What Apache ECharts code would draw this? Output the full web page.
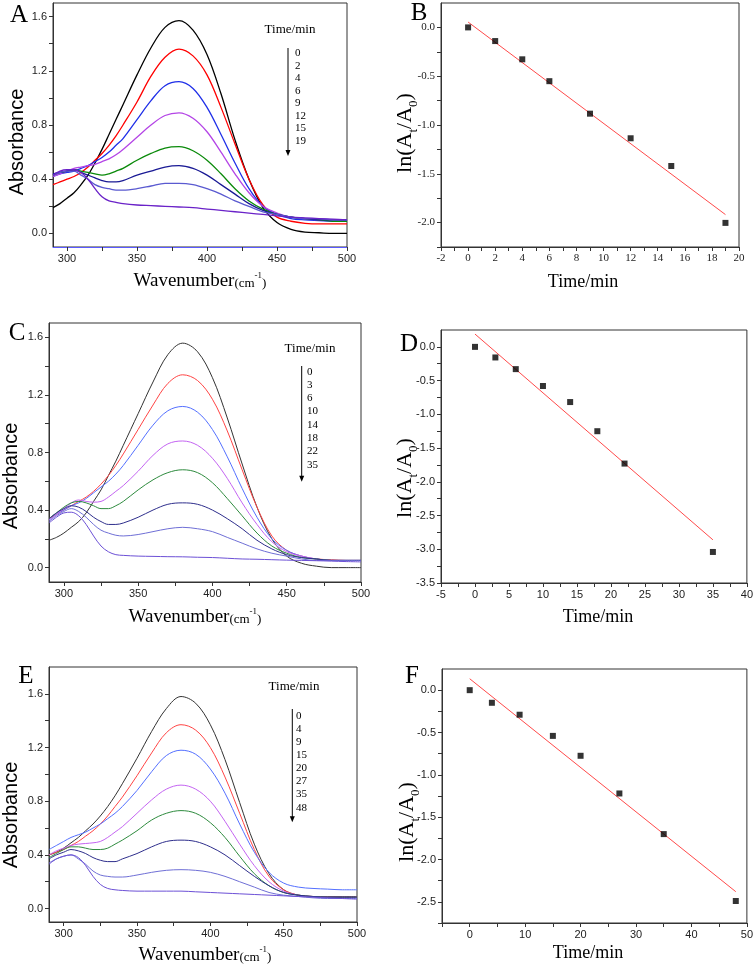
<!DOCTYPE html>
<html><head><meta charset="utf-8">
<script src="https://cdn.jsdelivr.net/npm/echarts@6/dist/echarts.min.js"></script>
<style>html,body{margin:0;padding:0;background:#fff}#c{width:756px;height:965px}</style>
</head><body><div id="c"></div>
<script>
// ---------- shared wavenumber grid ----------
const wn = [290,295,300,305,310,315,320,325,330,335,340,350,360,370,380,390,400,410,420,430,440,450,460,470,480,490,500];

// ---------- Panel A spectra (t = 0,2,4,6,9,12,15,19 min) ----------
const A_t0  = [.19,.22,.26,.30,.36,.43,.52,.62,.73,.84,.95,1.17,1.37,1.52,1.57,1.50,1.32,1.03,.69,.40,.19,.08,.03,.01,.005,0,0];
const A_t2  = [.36,.38,.40,.42,.45,.49,.54,.59,.65,.72,.80,.97,1.16,1.30,1.36,1.31,1.17,.93,.66,.40,.21,.12,.09,.075,.07,.07,.07];
const A_t4  = [.42,.44,.45,.46,.48,.50,.53,.56,.60,.65,.70,.84,.98,1.09,1.12,1.07,.93,.73,.52,.33,.20,.14,.11,.10,.095,.09,.09];
const A_t6  = [.42,.44,.46,.48,.49,.50,.51,.53,.55,.58,.62,.71,.80,.87,.89,.85,.75,.60,.44,.30,.20,.15,.12,.11,.10,.10,.10];
const A_t9  = [.43,.45,.46,.47,.46,.45,.44,.43,.44,.46,.48,.54,.59,.63,.64,.61,.54,.44,.33,.24,.18,.14,.12,.11,.10,.09,.09];
const A_t12 = [.44,.45,.46,.47,.45,.43,.41,.39,.38,.38,.39,.43,.46,.49,.50,.48,.43,.36,.29,.22,.17,.14,.12,.11,.10,.10,.10];
const A_t15 = [.43,.45,.46,.46,.43,.40,.36,.34,.33,.32,.32,.33,.35,.37,.37,.36,.33,.29,.24,.20,.16,.14,.12,.11,.11,.10,.10];
const A_t19 = [.43,.46,.47,.47,.45,.40,.33,.27,.24,.23,.22,.21,.205,.20,.195,.19,.18,.17,.16,.15,.14,.13,.12,.115,.11,.105,.10];

// ---------- Panel C spectra (t = 0,3,6,10,14,18,22,35 min) ----------
const C_t0  = [.19,.21,.24,.28,.32,.38,.46,.54,.64,.74,.85,1.07,1.29,1.48,1.56,1.50,1.32,1.04,.72,.42,.20,.08,.03,.01,0,0,0];
const C_t3  = [.34,.37,.40,.43,.46,.49,.53,.58,.64,.71,.79,.96,1.13,1.28,1.34,1.30,1.17,.95,.68,.42,.22,.12,.08,.06,.055,.05,.05];
const C_t6  = [.33,.37,.40,.43,.45,.48,.52,.56,.60,.65,.71,.85,.99,1.09,1.12,1.08,.96,.77,.55,.35,.20,.12,.08,.06,.05,.05,.05];
const C_t10 = [.33,.37,.41,.45,.47,.46,.455,.46,.49,.53,.57,.67,.78,.86,.88,.85,.76,.62,.45,.30,.18,.11,.08,.06,.05,.05,.05];
const C_t14 = [.34,.38,.42,.45,.46,.45,.43,.41,.41,.43,.46,.54,.61,.66,.68,.66,.59,.48,.36,.24,.15,.10,.07,.06,.05,.05,.05];
const C_t18 = [.34,.38,.41,.43,.42,.39,.35,.32,.30,.30,.31,.35,.40,.44,.45,.44,.40,.34,.27,.19,.13,.09,.07,.06,.05,.05,.05];
const C_t22 = [.32,.36,.39,.41,.39,.35,.30,.26,.24,.225,.22,.23,.25,.27,.28,.27,.25,.21,.17,.13,.10,.08,.06,.05,.05,.05,.05];
const C_t35 = [.31,.35,.38,.385,.36,.30,.22,.15,.11,.09,.085,.08,.078,.076,.075,.072,.07,.065,.06,.058,.055,.052,.05,.048,.045,.042,.04];

// ---------- Panel E spectra (t = 0,4,9,15,20,27,35,48 min) ----------
const E_t0  = [.40,.42,.45,.49,.53,.58,.63,.69,.76,.84,.93,1.12,1.32,1.49,1.58,1.53,1.37,1.11,.79,.48,.26,.14,.10,.09,.09,.09,.09];
const E_t4  = [.40,.42,.44,.47,.50,.54,.58,.63,.69,.76,.83,.99,1.16,1.31,1.37,1.33,1.20,.98,.71,.44,.24,.14,.10,.09,.085,.085,.085];
const E_t9  = [.44,.47,.50,.53,.55,.57,.60,.63,.67,.71,.76,.88,1.02,1.14,1.18,1.15,1.04,.86,.63,.42,.27,.19,.16,.15,.145,.14,.14];
const E_t15 = [.40,.43,.45,.47,.48,.485,.49,.50,.53,.57,.61,.71,.81,.89,.92,.89,.80,.65,.48,.32,.20,.13,.10,.09,.085,.085,.085];
const E_t20 = [.38,.41,.44,.46,.46,.45,.44,.44,.45,.48,.51,.58,.66,.71,.73,.71,.64,.53,.39,.26,.17,.12,.10,.09,.085,.085,.085];
const E_t27 = [.37,.40,.42,.44,.43,.41,.38,.36,.35,.35,.37,.41,.46,.50,.51,.50,.46,.40,.32,.24,.17,.12,.10,.09,.085,.085,.085];
const E_t35 = [.34,.37,.39,.40,.37,.33,.28,.25,.24,.235,.235,.25,.27,.285,.29,.285,.27,.24,.20,.16,.12,.10,.09,.08,.075,.075,.075];
const E_t48 = [.33,.37,.39,.40,.38,.32,.24,.18,.15,.14,.135,.13,.13,.13,.13,.125,.12,.115,.11,.105,.10,.095,.09,.085,.08,.075,.07];

// ---------- kinetics ----------
const timeB = [0,2,4,6,9,12,15,19];
const lnB   = [0,-0.14,-0.327,-0.551,-0.884,-1.136,-1.42,-2.003];
const fitBx = [0,19], fitBy = [0.055,-1.918];

const timeD = [0,3,6,10,14,18,22,35];
const lnD   = [0,-0.157,-0.33,-0.58,-0.818,-1.25,-1.73,-3.04];
const fitDx = [0,35], fitDy = [0.19,-2.86];

const timeF = [0,4,9,15,20,27,35,48];
const lnF   = [0,-0.149,-0.29,-0.54,-0.775,-1.22,-1.70,-2.49];
const fitFx = [0,48], fitFy = [0.135,-2.38];

// ---------- tick labels ----------
const specXLabels = [300,350,400,450,500];
const specXTicks  = [300,325,350,375,400,425,450,475,500];
const specYLabels = [0,0.4,0.8,1.2,1.6];
const specYTicks  = [0,0.2,0.4,0.6,0.8,1.0,1.2,1.4,1.6];
const bXLabels = [-2,0,2,4,6,8,10,12,14,16,18,20];
const bXTicks  = [-2,-1,0,1,2,3,4,5,6,7,8,9,10,11,12,13,14,15,16,17,18,19,20];
const bYLabels = [-2.0,-1.5,-1.0,-0.5,0.0];
const bYTicks  = [-2.25,-2.0,-1.75,-1.5,-1.25,-1.0,-0.75,-0.5,-0.25,0.0];
const dXLabels = [-5,0,5,10,15,20,25,30,35,40];
const dXTicks  = [-5,-2.5,0,2.5,5,7.5,10,12.5,15,17.5,20,22.5,25,27.5,30,32.5,35,37.5,40];
const dYLabels = [-3.5,-3.0,-2.5,-2.0,-1.5,-1.0,-0.5,0.0];
const dYTicks  = [-3.5,-3.25,-3.0,-2.75,-2.5,-2.25,-2.0,-1.75,-1.5,-1.25,-1.0,-0.75,-0.5,-0.25,0.0];
const fXLabels = [0,10,20,30,40,50];
const fXTicks  = [-5,0,5,10,15,20,25,30,35,40,45,50];
const fYLabels = [-2.5,-2.0,-1.5,-1.0,-0.5,0.0];
const fYTicks  = [-2.75,-2.5,-2.25,-2.0,-1.75,-1.5,-1.25,-1.0,-0.75,-0.5,-0.25,0.0];

const colorsA  = ['#000000','#ff0000','#1f2fe8','#b445e6','#0a8a0a','#1a1a95','#5a5ad0','#6a22c8'];
const colorsCE = ['#333333','#ff4444','#5470ff','#c464f2','#2e8b3e','#2e2e8c','#6f6fd6','#6c50d6'];

// ---------- layout ----------
const grids = [
  {left:53, top:3,   width:294, height:244},
  {left:441,top:3,   width:298, height:244},
  {left:49, top:323, width:312, height:259},
  {left:441,top:330, width:306, height:253},
  {left:49, top:667, width:308, height:255},
  {left:442,top:669, width:307, height:254}
].map(g => Object.assign({show:true, borderColor:'#333', borderWidth:1, containLabel:false}, g));

const SANS = 'Liberation Sans', SERIF = 'Liberation Serif';
function fmt1(v){ return (Math.abs(v) < 1e-9 ? 0 : v).toFixed(1); }
function fmt0(v){ return String(Math.round(v)); }
function axis(gi, min, max, ticks, labels, f, family, lineColor){
  return {
    type:'value', gridIndex:gi, min:min, max:max,
    axisLine:{show:true, onZero:false, lineStyle:{color:lineColor||'#333', width:1}},
    axisTick:{show:true, inside:false, length:4, customValues:ticks, lineStyle:{color:'#333'}},
    axisLabel:{customValues:labels, formatter:f, margin:6, fontFamily:family, fontSize:11, color:'#222'},
    splitLine:{show:false}
  };
}
const xAxes = [
  axis(0,290,500,specXTicks,specXLabels,fmt0,SANS,'#5a5aff'),
  axis(1,-2,20,bXTicks,bXLabels,fmt0,SERIF),
  axis(2,290,500,specXTicks,specXLabels,fmt0,SANS),
  axis(3,-5,40,dXTicks,dXLabels,fmt0,SANS),
  axis(4,290,500,specXTicks,specXLabels,fmt0,SANS),
  axis(5,-5,50,fXTicks,fXLabels,fmt0,SANS)
];
const yAxes = [
  axis(0,-0.1,1.7,specYTicks,specYLabels,fmt1,SANS),
  axis(1,-2.25,0.25,bYTicks,bYLabels,fmt1,SERIF),
  axis(2,-0.1,1.7,specYTicks,specYLabels,fmt1,SANS),
  axis(3,-3.5,0.25,dYTicks,dYLabels,fmt1,SANS),
  axis(4,-0.1,1.8,specYTicks,specYLabels,fmt1,SANS),
  axis(5,-2.75,0.25,fYTicks,fYLabels,fmt1,SANS)
];

const series = [];
function addSpectra(gi, sets, colors, width){
  sets.forEach((ys,k) => series.push({
    type:'line', xAxisIndex:gi, yAxisIndex:gi, showSymbol:false, symbol:'none', smooth:0.35,
    data: wn.map((x,i) => [x, ys[i]]), lineStyle:{color:colors[k], width:width}, z: 2, silent:true
  }));
}
addSpectra(0,[A_t0,A_t2,A_t4,A_t6,A_t9,A_t12,A_t15,A_t19],colorsA,1.3);
addSpectra(2,[C_t0,C_t3,C_t6,C_t10,C_t14,C_t18,C_t22,C_t35],colorsCE,1);
addSpectra(4,[E_t0,E_t4,E_t9,E_t15,E_t20,E_t27,E_t35,E_t48],colorsCE,1);

function addKinetics(gi, t, y, fx, fy){
  series.push({type:'line', xAxisIndex:gi, yAxisIndex:gi, symbol:'none', silent:true,
    data: fx.map((x,i) => [x, fy[i]]), lineStyle:{color:'#ff4a4a', width:1}, z:2});
  series.push({type:'scatter', xAxisIndex:gi, yAxisIndex:gi, symbol:'rect', symbolSize:6, silent:true,
    data: t.map((x,i) => [x, y[i]]), itemStyle:{color:'#000'}, z:3});
}
addKinetics(1,timeB,lnB,fitBx,fitBy);
addKinetics(3,timeD,lnD,fitDx,fitDy);
addKinetics(5,timeF,lnF,fitFx,fitFy);

// ---------- text annotations ----------
const g = [];
const serif = '"Liberation Serif", "Times New Roman", serif';
const sans  = '"Liberation Sans", Arial, sans-serif';
const mctx = document.createElement('canvas').getContext('2d');
function measure(text, font){ mctx.font = font; return mctx.measureText(text).width; }
function txt(x,y,text,font,opt){
  opt = opt || {};
  g.push(Object.assign({type:'text', x:x, y:y, silent:true,
    style:Object.assign({text:text, font:font, fill:'#000', align:opt.align||'center', verticalAlign:'middle'}, opt.style||{})},
    opt.el||{}));
}
// panel letters
[['A',19,15],['B',419,13],['C',17,333],['D',409,344],['E',26,676],['F',412,676]]
  .forEach(p => txt(p[1],p[2],p[0],'25px '+serif));
// x titles: Wavenumber(cm-1)
function wavTitle(cx,cy){
  const parts = [
    ['Wavenumber','19px '+serif,0],
    ['(cm','13px '+serif,2.5],
    ['-1','9px '+serif,-5],
    [')','13px '+serif,2.5]
  ];
  const total = parts.reduce((s,p) => s + measure(p[0],p[1]), 0);
  let x = cx - total/2;
  parts.forEach(p => { txt(x, cy + p[2], p[0], p[1], {align:'left'}); x += measure(p[0],p[1]); });
}
wavTitle(200,281); wavTitle(195,617); wavTitle(205,955);
txt(583,282,'Time/min','18px '+serif);
txt(598,617,'Time/min','18px '+serif);
txt(588,953,'Time/min','18px '+serif);
// y titles
function absTitle(x,y){ txt(x,y,'Absorbance','20px '+sans,{el:{rotation:Math.PI/2}}); }
absTitle(17,142); absTitle(11,476); absTitle(11,815);
function lnTitle(x,y){
  txt(x,y,'{n|ln(A}{s|t}{n|/A}{s|0}{n|)}','22px '+serif,{el:{rotation:Math.PI/2}, style:{lineHeight:30, rich:{
    n:{fontSize:22, fontFamily:SERIF, lineHeight:30},
    s:{fontSize:13, fontFamily:SERIF, lineHeight:14, verticalAlign:'bottom'}
  }}});
}
lnTitle(405,133); lnTitle(405,478); lnTitle(407,822);
// in-plot legends
function legend(cx, cy, nx, ny0, step, ax, ay0, ay1, times){
  txt(cx, cy, 'Time/min', '13px '+serif);
  times.forEach((t,i) => txt(nx, ny0+i*step, String(t), '11px '+serif, {align:'left'}));
  g.push({type:'line', silent:true, shape:{x1:ax, y1:ay0, x2:ax, y2:ay1-5}, style:{stroke:'#000', lineWidth:1}});
  g.push({type:'polygon', silent:true, shape:{points:[[ax-2.5,ay1-6],[ax+2.5,ay1-6],[ax,ay1]]}, style:{fill:'#000'}});
}
legend(290,30,295,53.3,12.5,288,48,156,timeB);
legend(310,349,307,371.7,13.3,301.7,366,481.7,timeD);
legend(294,687,296,716,13.1,292.3,709,822.3,timeF);

const chart = echarts.init(document.getElementById('c'), null, {renderer:'canvas'});
chart.setOption({
  animation:false, backgroundColor:'#fff',
  grid:grids, xAxis:xAxes, yAxis:yAxes, series:series, graphic:g
});
</script>
</body></html>
